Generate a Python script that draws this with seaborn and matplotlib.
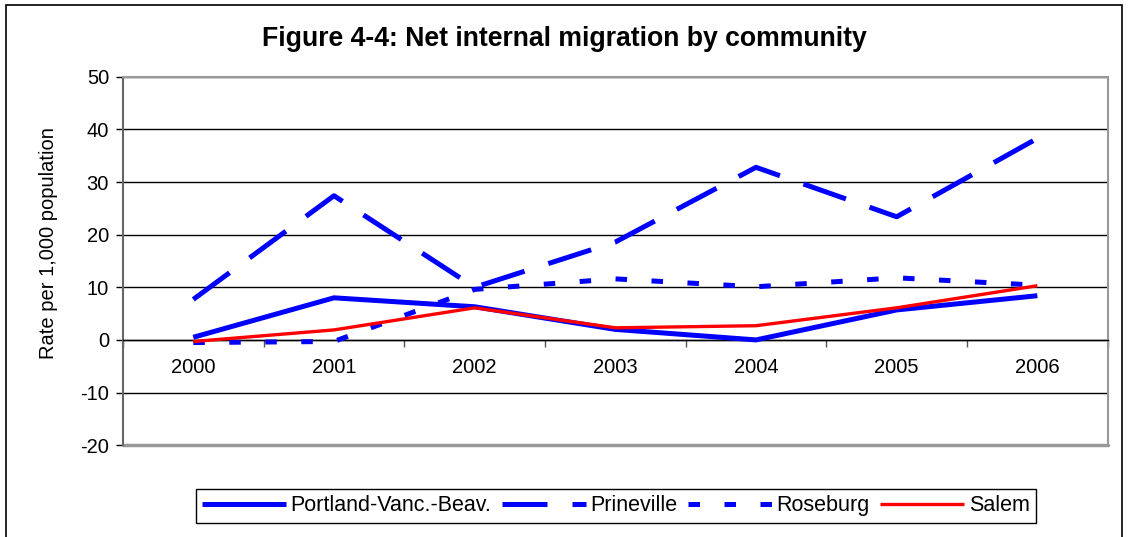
import matplotlib
matplotlib.use("Agg")
import matplotlib.pyplot as plt
from matplotlib.patches import Rectangle
from matplotlib.ticker import FixedLocator
import pandas as pd
import seaborn as sns

# values (rate per 1,000 population)
years = ["2000", "2001", "2002", "2003", "2004", "2005", "2006"]
portland = [0.5, 8.0, 6.3, 2.0, 0.0, 5.7, 8.4]
prineville = [7.7, 27.4, 10.0, 18.6, 32.8, 23.4, 38.3]
roseburg = [-0.5, -0.3, 9.6, 11.6, 10.1, 11.8, 10.4]
salem = [-0.3, 1.9, 6.1, 2.3, 2.7, 6.1, 10.3]

series_names = ["Portland-Vanc.-Beav.", "Prineville", "Roseburg", "Salem"]
series_values = [portland, prineville, roseburg, salem]

rows = []
for name, vals in zip(series_names, series_values):
    for i, v in enumerate(vals):
        rows.append({"pos": i, "year": years[i], "community": name, "rate": v})
df = pd.DataFrame(rows)

sns.set_style("white")
plt.rcParams["font.family"] = ["Liberation Sans", "DejaVu Sans"]
plt.rcParams["axes.unicode_minus"] = False
plt.rcParams["text.color"] = "black"
plt.rcParams["axes.labelcolor"] = "black"
plt.rcParams["xtick.color"] = "black"
plt.rcParams["ytick.color"] = "black"

fig = plt.figure(figsize=(11.28, 5.37), dpi=100)
ax = fig.add_axes([0.109, 0.171, 0.873, 0.686])

styles = {
    "Portland-Vanc.-Beav.": dict(color="#0000ff", lw=3.6, ls="-"),
    "Prineville": dict(color="#0000ff", lw=3.6, ls=(0, (9, 5))),
    "Roseburg": dict(color="#0000ff", lw=3.6, ls=(0, (2.3, 4.9))),
    "Salem": dict(color="#ff0000", lw=2.4, ls="-"),
}

for name in series_names:
    st = styles[name]
    sns.lineplot(data=df[df["community"] == name], x="pos", y="rate", ax=ax,
                 color=st["color"], linewidth=st["lw"], label=name,
                 solid_capstyle="butt", dash_capstyle="butt", zorder=3)
    ax.lines[-1].set_linestyle(st["ls"])

ax.set_xlim(-0.5, 6.5)
ax.set_ylim(-20, 50)
ax.set_yticks(range(-20, 51, 10))
ax.yaxis.grid(True, color="black", lw=1)
ax.set_axisbelow(True)

# category labels centred, tick marks between categories
ax.set_xticks(range(len(years)))
ax.set_xticklabels(years)
ax.xaxis.set_minor_locator(FixedLocator([i + 0.5 for i in range(-1, len(years))]))
ax.tick_params(axis="x", which="major", length=0, pad=13, labelsize=14.5)
ax.tick_params(axis="x", which="minor", length=5, width=1, color="#555555", direction="out", bottom=True)
ax.tick_params(axis="y", which="major", length=5, width=1, color="black", direction="out", left=True,
               labelsize=14.5, pad=5)

for s in ["top", "right"]:
    ax.spines[s].set_color("#999999")
    ax.spines[s].set_linewidth(1.5)
ax.spines["left"].set_color("#666666")
ax.spines["left"].set_linewidth(1.5)
ax.spines["bottom"].set_position(("data", 0))
ax.spines["bottom"].set_color("black")
ax.spines["bottom"].set_linewidth(1)
ax.axhline(-20, color="#999999", lw=2.5, clip_on=False)

ax.set_xlabel("")
ax.set_ylabel("Rate per 1,000 population", fontsize=14.5)
ax.yaxis.set_label_coords(-0.066, 0.55)

fig.suptitle("Figure 4-4: Net internal migration by community", fontsize=19.2,
             fontweight="bold", y=0.952)

ax.get_legend().remove()
handles, labels = ax.get_legend_handles_labels()
leg = fig.legend(handles, labels, loc="center", bbox_to_anchor=(0.546, 0.058), ncol=4,
                 frameon=True, fancybox=False, edgecolor="black", framealpha=1,
                 fontsize=15.5, handlelength=3.9, handletextpad=0.2, columnspacing=0.5,
                 borderpad=0.3)
leg.get_frame().set_linewidth(1)

fig.patches.append(Rectangle((0.005, -0.01), 0.99, 1.0, transform=fig.transFigure,
                             fill=False, edgecolor="black", lw=1.2))

fig.savefig("out.png", dpi=100, facecolor="white")
